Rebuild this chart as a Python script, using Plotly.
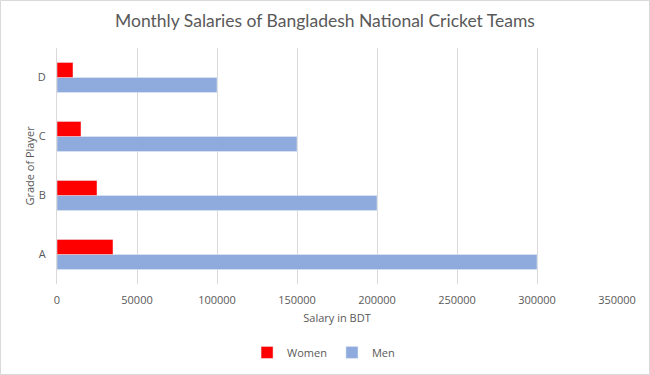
import plotly.graph_objects as go

grades = ["A", "B", "C", "D"]
women = [35000, 25000, 15000, 10000]
men = [300000, 200000, 150000, 100000]
x_ticks = [0, 50000, 100000, 150000, 200000, 250000, 300000, 350000]

fig = go.Figure()
fig.add_trace(go.Bar(name="Men", y=grades, x=men, orientation="h",
                     marker_color="#8faadc", legendrank=2))
fig.add_trace(go.Bar(name="Women", y=grades, x=women, orientation="h",
                     marker_color="#ff0000", legendrank=1))

fig.update_layout(
    width=650, height=375,
    paper_bgcolor="white", plot_bgcolor="white",
    barmode="group", bargap=0.49, bargroupgap=0,
    margin=dict(l=57, r=33, t=48, b=91, autoexpand=False),
    title=dict(text="Monthly Salaries of Bangladesh National Cricket Teams",
               x=0.5, xanchor="center", y=0.945, yanchor="middle",
               font=dict(family="Lato", size=17.5, color="#595959")),
    font=dict(family="Open Sans", size=11, color="#595959"),
    legend=dict(orientation="h", x=0.476, xanchor="center", y=-0.29, yanchor="middle",
                font=dict(size=11, color="#595959"), itemwidth=30,
                traceorder="normal"),
    xaxis=dict(range=[0, 350000], tickvals=x_ticks, automargin=False,
               ticktext=[str(v) for v in x_ticks],
               showgrid=True, gridcolor="#d9d9d9", gridwidth=1,
               zeroline=False, showline=False,
               ticks="outside", ticklen=6, tickcolor="rgba(0,0,0,0)",
               tickfont=dict(size=11, color="#595959"),
               title=dict(text="Salary in BDT", standoff=8,
                          font=dict(size=11, color="#595959"))),
    yaxis=dict(categoryorder="array", categoryarray=grades, automargin=False,
               showgrid=False, zeroline=False,
               showline=True, linecolor="#d9d9d9", linewidth=1,
               ticks="outside", ticklen=8, tickcolor="rgba(0,0,0,0)",
               tickfont=dict(size=11, color="#595959"),
               title=dict(text="Grade of Player", standoff=0,
                          font=dict(size=11, color="#595959"))),
)
fig.update_layout(shapes=[dict(type="rect", xref="paper", yref="paper",
                               x0=-56.5/560, x1=1+32.5/560, y0=-90.5/236, y1=1+47.5/236,
                               line=dict(color="#d9d9d9", width=1), fillcolor="rgba(0,0,0,0)")])

fig.write_html("out.html", post_script="document.body.style.margin='0';",
               config={"displayModeBar": False})
